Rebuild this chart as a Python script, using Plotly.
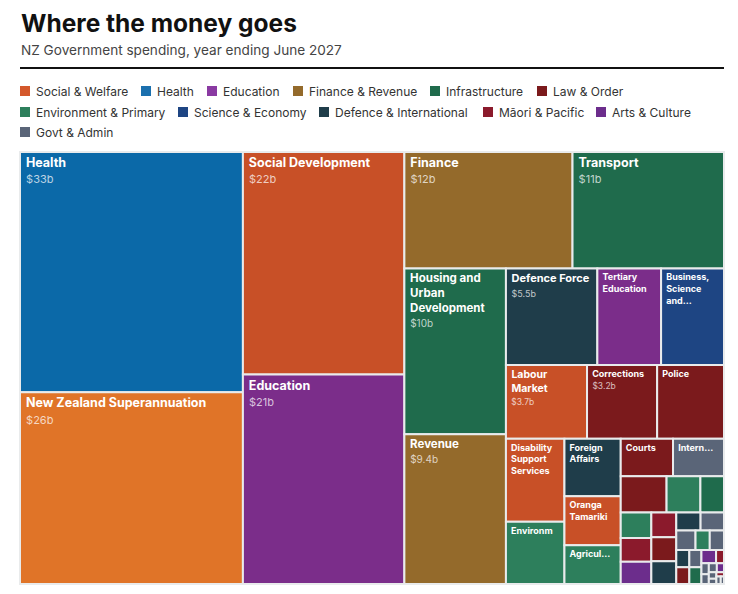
import plotly.graph_objects as go

# ---------------- data ----------------
names = [
    "Health", "New Zealand Superannuation", "Social Development", "Education",
    "Finance", "Transport", "Housing and Urban Development", "Revenue",
    "Defence Force", "Tertiary Education", "Business, Science and Innovation",
    "Labour Market", "Corrections", "Police", "Disability Support Services",
    "Environment", "Foreign Affairs", "Oranga Tamariki",
    "Agriculture, Biosecurity, Fisheries and Food Safety", "Courts",
    "Internal Affairs", "Justice", "Conservation", "Building and Construction",
    "Land Information", "Māori Development", "Arts, Culture and Heritage",
    "Te Arawhiti", "Pacific Peoples", "Customs", "Defence",
    "Prime Minister and Cabinet", "Statistics", "Climate Change",
    "Parliamentary Service", "Security Intelligence", "Crown Law",
    "Public Service", "Energy", "Sport and Recreation", "Whānau Ora",
    "Office of the Clerk", "Audit", "Ombudsmen", "Broadcasting",
    "Parliamentary Commissioner for the Environment", "Privacy Commissioner",
    "Treaty Settlements", "Emergency Management", "Electoral Commission",
]
values = [
    33.1, 26.4, 22.2, 20.9,
    12.1, 10.9, 10.4, 9.4,
    5.45, 3.8, 3.75,
    3.7, 3.2, 3.05, 3.0,
    2.25, 2.0, 1.7,
    1.35, 1.21,
    1.18, 1.03, 0.76, 0.53,
    0.48, 0.45, 0.42,
    0.38, 0.37, 0.35, 0.27,
    0.26, 0.23, 0.17,
    0.17, 0.14, 0.135,
    0.13, 0.125, 0.12, 0.065,
    0.05, 0.045, 0.045, 0.04,
    0.03, 0.025,
    0.02, 0.02, 0.015,
]
categories = [
    "Health", "Social & Welfare", "Social & Welfare", "Education",
    "Finance & Revenue", "Infrastructure", "Infrastructure", "Finance & Revenue",
    "Defence & International", "Education", "Science & Economy",
    "Social & Welfare", "Law & Order", "Law & Order", "Social & Welfare",
    "Environment & Primary", "Defence & International", "Social & Welfare",
    "Environment & Primary", "Law & Order",
    "Govt & Admin", "Law & Order", "Environment & Primary", "Infrastructure",
    "Environment & Primary", "Māori & Pacific", "Arts & Culture",
    "Māori & Pacific", "Law & Order", "Defence & International", "Defence & International",
    "Govt & Admin", "Govt & Admin", "Environment & Primary",
    "Govt & Admin", "Defence & International", "Law & Order",
    "Govt & Admin", "Infrastructure", "Arts & Culture", "Māori & Pacific",
    "Govt & Admin", "Govt & Admin", "Govt & Admin", "Arts & Culture",
    "Govt & Admin", "Govt & Admin",
    "Māori & Pacific", "Govt & Admin", "Govt & Admin",
]
# text drawn inside the tiles (as shown in the chart)
tile_labels = {
    "Health": "Health",
    "New Zealand Superannuation": "New Zealand Superannuation",
    "Social Development": "Social Development",
    "Education": "Education",
    "Finance": "Finance",
    "Transport": "Transport",
    "Housing and Urban Development": "Housing and<br>Urban<br>Development",
    "Revenue": "Revenue",
    "Defence Force": "Defence Force",
    "Tertiary Education": "Tertiary<br>Education",
    "Business, Science and Innovation": "Business,<br>Science<br>and…",
    "Labour Market": "Labour<br>Market",
    "Corrections": "Corrections",
    "Police": "Police",
    "Disability Support Services": "Disability<br>Support<br>Services",
    "Environment": "Environm",
    "Foreign Affairs": "Foreign<br>Affairs",
    "Oranga Tamariki": "Oranga<br>Tamariki",
    "Agriculture, Biosecurity, Fisheries and Food Safety": "Agricul…",
    "Courts": "Courts",
    "Internal Affairs": "Intern…",
}
value_labels = {
    "Health": "$33b", "New Zealand Superannuation": "$26b",
    "Social Development": "$22b", "Education": "$21b", "Finance": "$12b",
    "Transport": "$11b", "Housing and Urban Development": "$10b",
    "Revenue": "$9.4b", "Defence Force": "$5.5b", "Labour Market": "$3.7b",
    "Corrections": "$3.2b",
}
legend_items = [
    "Social & Welfare", "Health", "Education", "Finance & Revenue",
    "Infrastructure", "Law & Order", "Environment & Primary",
    "Science & Economy", "Defence & International", "Māori & Pacific",
    "Arts & Culture", "Govt & Admin",
]

# ---------------- styling ----------------
cat_colors = {
    "Social & Welfare": "#c85027",
    "Health": "#0b69a8",
    "Education": "#7b2d8a",
    "Finance & Revenue": "#946a2b",
    "Infrastructure": "#1f6b4c",
    "Law & Order": "#7b1a1c",
    "Environment & Primary": "#2d7f5c",
    "Science & Economy": "#1e4583",
    "Defence & International": "#1f3d4a",
    "Māori & Pacific": "#8b1a2c",
    "Arts & Culture": "#6c2d8c",
    "Govt & Admin": "#5a6578",
}
legend_colors = dict(cat_colors)
legend_colors["Social & Welfare"] = "#d4582b"
legend_colors["Health"] = "#1b70ae"
legend_colors["Education"] = "#8a3aa2"
shade_override = {"New Zealand Superannuation": "#e07428"}

big = {"Health", "New Zealand Superannuation", "Social Development", "Education",
       "Finance", "Transport"}
mid = {"Housing and Urban Development", "Revenue"}
small_mid = {"Defence Force"}
lab_mid = {"Labour Market"}


def sizes(n):
    if n in big:
        return 12.5, 11
    if n in mid:
        return 11.5, 10
    if n in small_mid:
        return 11, 9
    if n in lab_mid:
        return 10.5, 8.5
    return 9, 8.5


ROOT = "All spending"
ids = [ROOT]
labels = [ROOT]
parents = [""]
vals = [0]
colors = ["white"]
font_sizes = [10]
templates = [" "]
for n, c, v in zip(names, categories, values):
    ids.append(n)
    labels.append(n)
    parents.append(ROOT)
    vals.append(v)
    colors.append(shade_override.get(n, cat_colors[c]))
    ls, vs = sizes(n)
    font_sizes.append(ls)
    lab = tile_labels.get(n, "")
    if lab:
        t = "<b>&nbsp;" + lab.replace("<br>", "<br>&nbsp;") + "</b>"
        if n in value_labels:
            t += ("<br><span style='font-size:%gpx;color:rgba(255,255,255,0.72)'>&nbsp;"
                  % vs) + value_labels[n] + "</span>"
    else:
        t = " "
    templates.append(t)

W, H = 738, 594
L, R, T, B = 20, 14, 152, 10
PW, PH = W - L - R, H - T - B


def fx(px):
    return (px - L) / PW


def fy(py):
    return (H - B - py) / PH


fig = go.Figure(go.Treemap(
    ids=ids,
    labels=labels,
    parents=parents,
    values=vals,
    branchvalues="remainder",
    sort=True,
    marker=dict(colors=colors, line=dict(color="#e9ebec", width=2),
                pad=dict(t=0, l=0, r=0, b=0)),
    tiling=dict(packing="squarify", squarifyratio=1, pad=0),
    texttemplate=templates,
    textposition="top left",
    textfont=dict(family="Inter, Roboto, sans-serif", color="white", size=font_sizes),
    hovertemplate="%{label}<br>$%{value}b<extra></extra>",
    pathbar=dict(visible=False),
))

ann = [
    dict(x=fx(19), y=fy(23), text="<b>Where the money goes</b>",
         font=dict(size=24.5, color="#111111", family="Inter, Roboto, sans-serif")),
    dict(x=fx(19), y=fy(50), text="NZ Government spending, year ending June 2027",
         font=dict(size=13.6, color="#444444", family="Inter, Roboto, sans-serif")),
]
shapes = [dict(type="line", xref="paper", yref="paper", x0=fx(20), x1=fx(724),
               y0=fy(68), y1=fy(68), line=dict(color="#111111", width=2))]

legend_rows = [
    (91, [20, 141, 207, 293, 430, 537]),
    (112, [20, 178, 319, 483, 596]),
    (132, [20]),
]
k = 0
for cy, xs in legend_rows:
    for sx in xs:
        item = legend_items[k]
        k += 1
        shapes.append(dict(type="rect", xref="paper", yref="paper",
                           x0=fx(sx), x1=fx(sx + 10), y0=fy(cy + 5), y1=fy(cy - 5),
                           fillcolor=legend_colors[item], line=dict(width=0)))
        ann.append(dict(x=fx(sx + 14), y=fy(cy), text=item,
                        font=dict(size=12, color="#333333",
                                  family="Inter, Roboto, sans-serif")))

for a in ann:
    a.update(xref="paper", yref="paper", xanchor="left", yanchor="middle",
             showarrow=False)

fig.update_layout(
    width=W, height=H,
    margin=dict(l=L, r=R, t=T, b=B),
    paper_bgcolor="white",
    plot_bgcolor="white",
    annotations=ann,
    shapes=shapes,
    font=dict(family="Inter, Roboto, sans-serif"),
)

fig.write_html("out.html")
